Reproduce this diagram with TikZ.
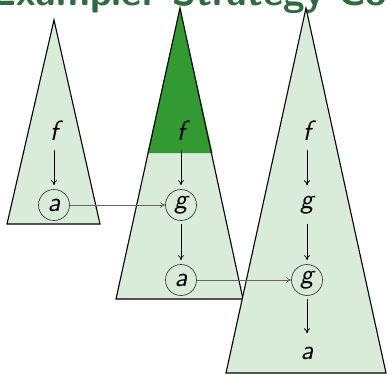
\documentclass[tikz,border=0pt]{standalone}
\usetikzlibrary{arrows.meta}
\definecolor{lightg}{RGB}{217,235,217}
\definecolor{darkg}{RGB}{51,153,51}
\definecolor{titleg}{RGB}{47,107,63}
\begin{document}
\begin{tikzpicture}[x=1pt,y=-1pt,
  term/.style={circle,minimum size=31pt,inner sep=0pt,font=\fontsize{28}{32}\selectfont\sffamily\itshape},
  boxed/.style={term,draw=black!75,line width=0.7pt},
  tri/.style={fill=lightg,draw=black,line width=1.1pt,line join=miter},
  down/.style={-{To[length=5pt,width=6pt]},line width=0.8pt,shorten <=3pt,shorten >=4pt},
  link/.style={-{To[length=5pt,width=6pt]},draw=black!60,line width=0.8pt}]
\useasboundingbox (0,0) rectangle (388,376);
\begin{scope}
\clip (0,0) rectangle (388,376);
\node[anchor=base west,text=titleg,inner sep=0pt,font=\fontsize{39}{44}\selectfont\sffamily\bfseries] (title) at (-9,5) {Example: Strategy Co};
% triangles
\draw[tri] (54,20) -- (100,224) -- (7,224) -- cycle;
\fill[lightg] (180,8) -- (243,299) -- (116,299) -- cycle;
\fill[darkg] (180,8) -- (212.6,153) -- (147.4,153) -- cycle;
\draw[line width=1.1pt] (180,8) -- (243,299) -- (116,299) -- cycle;
\draw[tri] (306,8) -- (386,373) -- (226,373) -- cycle;
\end{scope}
% tree 1
\node[term] (f1) at (54,131) {f};
\node[boxed] (a1) at (54,205) {a};
% tree 2
\node[term] (f2) at (181,131) {f};
\node[boxed] (g2) at (181,205) {g};
\node[boxed] (a2) at (181,280) {a};
% tree 3
\node[term] (f3) at (307,131) {f};
\node[term] (g3) at (307,205) {g};
\node[boxed] (g3c) at (307,280) {g};
\node[term] (a3) at (307,353) {a};
\draw[down] (f1) -- (a1);
\draw[down] (f2) -- (g2);
\draw[down] (g2) -- (a2);
\draw[down] (f3) -- (g3);
\draw[down] (g3) -- (g3c);
\draw[down] (g3c) -- (a3);
\draw[link] (a1) -- (g2);
\draw[link] (a2) -- (g3c);
\end{tikzpicture}
\end{document}
